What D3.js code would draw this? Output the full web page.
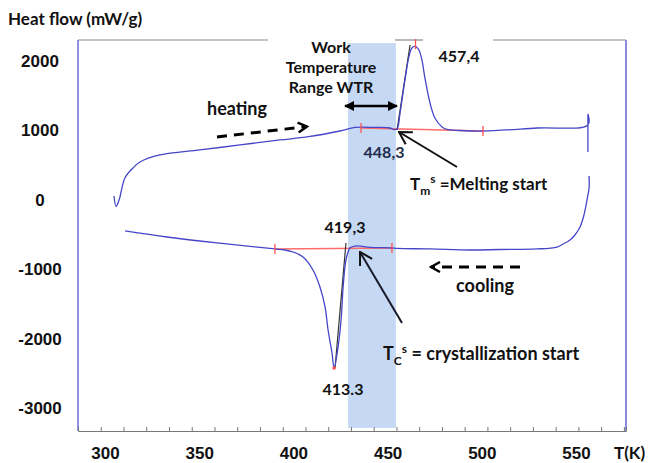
<!DOCTYPE html>
<html>
<head>
<meta charset="utf-8">
<style>
  body { margin: 0; background: #fff; }
  svg { font-family: Lato, 'Open Sans', sans-serif; font-weight: bold; }
  .tick text { font-size: 17px; fill: #111; }
  .note { font-size: 16px; fill: #111; }
  .big { font-size: 18px; fill: #111; }
  .wtr { font-size: 16px; fill: #111; }
</style>
</head>
<body>
<svg width="651" height="463"></svg>
<script src="https://d3js.org/d3.v7.min.js"></script>
<script>
// heating run (T in K as placed on the axis, heat flow in mW/g)
const heatT = [304.8, 305.9, 307.5, 310.6, 314.9, 318.6, 329.2, 350.4, 371.7, 392.9, 407.2, 424.7, 432.7, 443.3, 451.3, 452.9, 455.0,
               456.6, 459.2, 461.3, 462.9, 464.8, 466.6, 468.2, 469.8, 472.5, 475.1, 478.9, 481.5, 488.4, 500.6, 529.3, 556.3, 556.3, 556.3];
const heatV = [46, -105, -12, 305, 449, 535, 636, 708, 780, 852, 895, 981, 1032, 1032, 1024, 1003, 1010,
               1240, 1715, 2046, 2175, 2197, 2146, 2003, 1744, 1384, 1168, 1039, 1003, 988, 981, 1024, 1068, 1226, 679];

// cooling run
const coolT = [556.9, 556.9, 555.8, 554.2, 552.1, 549.4, 546.8, 543.1, 539.9, 529.3, 509.6, 493.7, 472.5, 455.0, 452.3, 440.7, 433.8,
               431.1, 430.0, 427.9, 426.4, 425.3, 423.7, 421.6, 420.5, 418.4, 416.8, 414.1, 410.4, 405.1, 399.8, 395.5, 390.2, 377.0, 359.5, 332.9, 310.6];
const coolV = [334, 161, -12, -227, -400, -515, -587, -645, -688, -716, -724, -731, -716, -709, -702, -692, -673,
               -688, -702, -875, -1263, -1738, -2127, -2428, -2213, -1882, -1551, -1263, -1019, -832, -760, -731, -716, -680, -630, -544, -457];

// red baselines and black onset tangents
const heatBaseT = [435.9, 500.6];
const heatBaseV = [1024, 981];
const coolBaseT = [390.2, 452.3];
const coolBaseV = [-716, -702];
const heatTanT = [455.0, 461.9];
const heatTanV = [995, 2218];
const coolTanT = [422.1, 427.9];
const coolTanV = [-2428, -630];

// red markers
const markT = [435.9, 500.6, 464.8, 390.2, 452.3];
const markV = [1024, 981, 2230, -716, -702];

// work temperature range band
const wtrT = [429.0, 454.4];
const wtrV = [2245, -3290];

const xTicks = [300, 350, 400, 450, 500, 550];
const yTicks = [2000, 1000, 0, -1000, -2000, -3000];
const minorTicks = d3.range(0, 25).map(i => 285.7 + i * 12.07);

const svg = d3.select("svg");

let x = d3.scaleLinear().domain([285.7, 576.5]).range([78, 626]);
let y = d3.scaleLinear().domain([-3335, 2290]).range([431, 40]);

// band
svg.append("rect")
    .attr("x", x(wtrT[0]))
    .attr("y", y(wtrV[0]))
    .attr("width", x(wtrT[1]) - x(wtrT[0]))
    .attr("height", y(wtrV[1]) - y(wtrV[0]))
    .attr("fill", "#c5d9f4");

// frame
[[78, 268], [395, 423], [493, 626]].forEach(s => {
    svg.append("line").attr("x1", s[0]).attr("x2", s[1]).attr("y1", 40).attr("y2", 40)
        .attr("stroke", "#8a8a8a").attr("stroke-width", 1.2);
});
svg.append("line").attr("x1", 626).attr("x2", 626).attr("y1", 40).attr("y2", 431)
    .attr("stroke", "#8c8ce0").attr("stroke-width", 2);
svg.append("line").attr("x1", 78).attr("x2", 78).attr("y1", 40).attr("y2", 431)
    .attr("stroke", "#6c6cdc").attr("stroke-width", 1.5);

// x axis
svg.append("g")
    .attr("transform", "translate(0,431)")
    .call(d3.axisBottom(x).tickValues(minorTicks).tickSize(-4).tickFormat(""))
    .call(g => g.select(".domain").attr("stroke", "#777"))
    .call(g => g.selectAll(".tick line").attr("stroke", "#777"));

svg.append("g")
    .attr("transform", "translate(0,431)")
    .call(d3.axisBottom(x).tickValues(xTicks).tickSize(0).tickFormat(d => String(d)))
    .call(g => g.select(".domain").remove())
    .call(g => g.selectAll("text").attr("y", 28).attr("dy", 0).attr("font-family", null));

// y axis labels
svg.append("g")
    .attr("transform", "translate(78,0)")
    .call(d3.axisLeft(y).tickValues(yTicks).tickSize(0).tickFormat(d => String(d)))
    .call(g => g.select(".domain").remove())
    .call(g => g.selectAll("text").attr("x", -38).attr("text-anchor", "middle").attr("dy", "0.35em").attr("font-family", null));

svg.append("text").attr("x", 8).attr("y", 25).style("font-size", "17px").attr("fill", "#111")
    .text("Heat flow (mW/g)");
svg.append("text").attr("x", 614).attr("y", 459).style("font-size", "17px").attr("fill", "#111")
    .text("T(K)");

// baselines
let line = d3.line().x(d => x(d[0])).y(d => y(d[1]));

svg.append("path").datum(d3.zip(heatBaseT, heatBaseV)).attr("d", line)
    .attr("fill", "none").attr("stroke", "#ff6b6b").attr("stroke-width", 1.5);
svg.append("path").datum(d3.zip(coolBaseT, coolBaseV)).attr("d", line)
    .attr("fill", "none").attr("stroke", "#ff6b6b").attr("stroke-width", 1.5);

// tangents
svg.append("path").datum(d3.zip(heatTanT, heatTanV)).attr("d", line)
    .attr("fill", "none").attr("stroke", "#333").attr("stroke-width", 1.2);
svg.append("path").datum(d3.zip(coolTanT, coolTanV)).attr("d", line)
    .attr("fill", "none").attr("stroke", "#333").attr("stroke-width", 1.2);

// curves
let smooth = d3.line().x(d => x(d[0])).y(d => y(d[1])).curve(d3.curveCatmullRom.alpha(0.5));

svg.append("path").datum(d3.zip(heatT, heatV)).attr("d", smooth)
    .attr("fill", "none").attr("stroke", "#4646c8").attr("stroke-width", 1.3);
svg.append("path").datum(d3.zip(coolT, coolV)).attr("d", smooth)
    .attr("fill", "none").attr("stroke", "#4646c8").attr("stroke-width", 1.3);

// red marks
svg.selectAll(".mark").data(d3.zip(markT, markV)).join("line")
    .attr("class", "mark")
    .attr("x1", d => x(d[0])).attr("x2", d => x(d[0]))
    .attr("y1", d => y(d[1]) - 5).attr("y2", d => y(d[1]) + 5)
    .attr("stroke", "#ff5050").attr("stroke-width", 1.3);
svg.append("circle").attr("cx", x(421.6)).attr("cy", y(-2428)).attr("r", 1.8).attr("fill", "#ff5050");

// markers
let defs = svg.append("defs");
defs.append("marker").attr("id", "tri").attr("viewBox", "0 0 10 10").attr("refX", 9).attr("refY", 5)
    .attr("markerWidth", 4).attr("markerHeight", 4).attr("orient", "auto-start-reverse")
    .append("path").attr("d", "M0,0L10,5L0,10z").attr("fill", "#000");
defs.append("marker").attr("id", "chev").attr("viewBox", "0 0 12 12").attr("refX", 10).attr("refY", 6)
    .attr("markerWidth", 12).attr("markerHeight", 12).attr("markerUnits", "userSpaceOnUse").attr("orient", "auto")
    .append("path").attr("d", "M1,1L10,6L1,11").attr("fill", "none").attr("stroke", "#000").attr("stroke-width", 2.4);
defs.append("marker").attr("id", "open").attr("viewBox", "0 0 16 16").attr("refX", 15).attr("refY", 8)
    .attr("markerWidth", 16).attr("markerHeight", 16).attr("markerUnits", "userSpaceOnUse").attr("orient", "auto")
    .append("path").attr("d", "M3,1L15,8L3,15").attr("fill", "none").attr("stroke", "#111").attr("stroke-width", 2);

// WTR label and arrow
["Work", "Temperature", "Range WTR"].forEach((t, i) => {
    svg.append("text").attr("class", "wtr").attr("x", 331).attr("y", 53 + i * 20)
        .attr("text-anchor", "middle").text(t);
});
svg.append("line").attr("x1", 345).attr("x2", 397).attr("y1", 106).attr("y2", 106)
    .attr("stroke", "#000").attr("stroke-width", 2.5)
    .attr("marker-start", "url(#tri)").attr("marker-end", "url(#tri)");

// heating / cooling
svg.append("text").attr("class", "big").attr("x", 237).attr("y", 115).attr("text-anchor", "middle").text("heating");
svg.append("line").attr("x1", 217).attr("y1", 137).attr("x2", 307).attr("y2", 126.5)
    .attr("stroke", "#000").attr("stroke-width", 3).attr("stroke-dasharray", "10,7")
    .attr("marker-end", "url(#chev)");
svg.append("text").attr("class", "big").attr("x", 485).attr("y", 292).attr("text-anchor", "middle").text("cooling");
svg.append("line").attr("x1", 520).attr("y1", 267).attr("x2", 431).attr("y2", 267)
    .attr("stroke", "#000").attr("stroke-width", 3).attr("stroke-dasharray", "10,7")
    .attr("marker-end", "url(#chev)");

// values
svg.append("text").attr("class", "note").attr("x", 459).attr("y", 62).attr("text-anchor", "middle").text("457,4");
svg.append("text").attr("class", "note").attr("x", 384).attr("y", 158).attr("text-anchor", "middle")
    .style("fill", "#1f2d4a").text("448,3");
svg.append("text").attr("class", "note").attr("x", 345).attr("y", 233).attr("text-anchor", "middle").text("419,3");
svg.append("text").attr("class", "note").attr("x", 343).attr("y", 395).attr("text-anchor", "middle").text("413.3");

// onset arrows
svg.append("line").attr("x1", 457).attr("y1", 167).attr("x2", 399).attr("y2", 132)
    .attr("stroke", "#111").attr("stroke-width", 2).attr("marker-end", "url(#open)");
svg.append("line").attr("x1", 402).attr("y1", 323).attr("x2", 360).attr("y2", 252)
    .attr("stroke", "#1a1a2a").attr("stroke-width", 2).attr("marker-end", "url(#open)");

let tm = svg.append("text").style("font-size", "17px").attr("fill", "#111").attr("x", 410).attr("y", 190);
tm.append("tspan").text("T");
tm.append("tspan").attr("dy", 5).style("font-size", "12px").text("m");
tm.append("tspan").attr("dy", -12).style("font-size", "12px").text("s");
tm.append("tspan").attr("dy", 7).text(" =Melting start");

let tc = svg.append("text").style("font-size", "18px").attr("fill", "#111").attr("x", 383).attr("y", 360);
tc.append("tspan").text("T");
tc.append("tspan").attr("dy", 5).style("font-size", "12px").text("C");
tc.append("tspan").attr("dy", -12).style("font-size", "12px").text("s");
tc.append("tspan").attr("dy", 7).text(" = crystallization start");
</script>
</body>
</html>
